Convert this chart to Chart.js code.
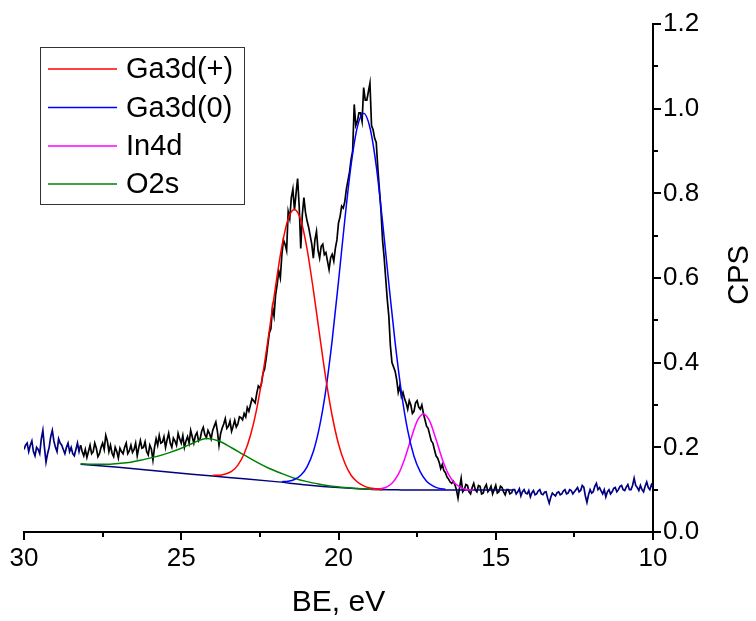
<!DOCTYPE html>
<html>
<head>
<meta charset="utf-8">
<script src="https://cdn.jsdelivr.net/npm/chart.js@4.4.0/dist/chart.umd.min.js"></script>
<style>
  html, body { margin: 0; padding: 0; background: #fff; }
  #c { display: block; }
</style>
</head>
<body>
<canvas id="c" width="756" height="621"></canvas>
<script>
// measured spectrum, 0.05 eV steps (black = fit range, navy = outside)
var spectrumStep = 0.05;
var spectrumStart = 28.2;
var spectrum = [
  0.205,0.19,0.180,0.195,0.176,0.19,0.205,0.185,0.190,0.21,
  0.198,0.178,0.185,0.2,0.210,0.195,0.228,0.215,0.190,0.205,
  0.186,0.178,0.200,0.19,0.175,0.198,0.190,0.185,0.200,0.21,
  0.185,0.192,0.205,0.188,0.195,0.21,0.180,0.2,0.216,0.198,
  0.200,0.213,0.190,0.182,0.205,0.196,0.170,0.2,0.220,0.205,
  0.228,0.21,0.212,0.225,0.200,0.218,0.233,0.21,0.200,0.222,
  0.215,0.205,0.233,0.22,0.210,0.228,0.200,0.215,0.225,0.21,
  0.240,0.225,0.210,0.228,0.235,0.215,0.220,0.238,0.247,0.23,
  0.223,0.24,0.232,0.22,0.240,0.25,0.260,0.238,0.205,0.232,
  0.245,0.255,0.268,0.245,0.250,0.262,0.238,0.25,0.264,0.248,
  0.255,0.272,0.270,0.265,0.280,0.272,0.294,0.285,0.300,0.315,
  0.310,0.305,0.327,0.345,0.340,0.35,0.375,0.385,0.410,0.44,
  0.470,0.48,0.530,0.51,0.560,0.585,0.617,0.6,0.656,0.69,
  0.680,0.665,0.757,0.74,0.790,0.81,0.760,0.80,0.835,0.77,
  0.670,0.75,0.790,0.755,0.735,0.72,0.700,0.68,0.647,0.69,
  0.710,0.665,0.647,0.675,0.680,0.655,0.660,0.64,0.620,0.648,
  0.656,0.64,0.670,0.69,0.730,0.745,0.770,0.765,0.780,0.81,
  0.830,0.85,0.880,0.9,1.010,0.96,0.970,0.99,0.990,0.97,
  1.050,1.02,1.020,1.04,1.060,0.96,0.950,0.93,0.920,0.86,
  0.810,0.76,0.690,0.65,0.600,0.55,0.510,0.44,0.400,0.39,
  0.380,0.36,0.330,0.345,0.320,0.33,0.315,0.305,0.290,0.31,
  0.300,0.28,0.285,0.305,0.310,0.295,0.290,0.3,0.280,0.265,
  0.250,0.245,0.230,0.215,0.210,0.195,0.180,0.175,0.165,0.15,
  0.160,0.145,0.140,0.13,0.125,0.118,0.115,0.12,0.112,0.1,
  0.080,0.105,0.127,0.095,0.100,0.112,0.110,0.095,0.090,0.105,
  0.115,0.1,0.095,0.11,0.108,0.09,0.092,0.105,0.112,0.095,
  0.100,0.108,0.090,0.1,0.110,0.092,0.095,0.108,0.105,0.095,
  0.088,0.1,0.100,0.09,0.092
];
var leftStart = 30.0;
var leftTail = [
  0.195,0.205,0.210,0.19,0.205,0.215,0.190,0.18,0.200,0.195,
  0.185,0.22,0.240,0.2,0.165,0.185,0.200,0.225,0.240,0.215,
  0.200,0.19,0.220,0.21,0.205,0.195,0.185,0.2,0.210,0.19,
  0.200,0.185,0.180,0.195,0.210,0.19,0.205
];
var rightStart = 14.5;
var rightTail = [
  0.092,0.1,0.100,0.09,0.095,0.102,0.085,0.095,0.100,0.092,
  0.090,0.098,0.083,0.093,0.098,0.088,0.090,0.097,0.100,0.09,
  0.088,0.094,0.095,0.08,0.068,0.082,0.092,0.088,0.085,0.093,
  0.095,0.088,0.090,0.097,0.100,0.09,0.092,0.1,0.098,0.09,
  0.095,0.1,0.105,0.095,0.098,0.11,0.106,0.085,0.070,0.088,
  0.100,0.092,0.095,0.108,0.115,0.1,0.105,0.097,0.090,0.1,
  0.083,0.095,0.100,0.09,0.095,0.103,0.105,0.095,0.100,0.108,
  0.110,0.1,0.098,0.106,0.112,0.1,0.100,0.11,0.127,0.11,
  0.105,0.098,0.110,0.1,0.095,0.108,0.118,0.105,0.100,0.112,
  0.105
];

// background
var bgBE  = [28.2, 27, 26, 25, 24, 23, 22, 21, 20, 19, 18, 17, 14.45];
var bgCPS = [0.160,0.153,0.146,0.139,0.132,0.126,0.119,0.111,0.105,0.101,0.0995,0.099,0.099];

// fitted components (peak + background)
var ga3dPlusStart = 24.0, ga3dPlusStep = 0.2;
var ga3dPlus = [0.134,0.134,0.137,0.143,0.158,0.185,0.228,0.291,0.376,0.476,0.581,0.675,0.740,0.762,
  0.737,0.669,0.572,0.465,0.361,0.274,0.208,0.163,0.134,0.118,0.109,0.104,0.102,0.100];
var ga3d0Start = 21.8, ga3d0Step = 0.2;
var ga3d0 = [0.119,0.120,0.124,0.134,0.154,0.190,0.250,0.337,0.454,0.592,0.737,0.867,0.957,0.989,
  0.955,0.865,0.733,0.587,0.448,0.330,0.240,0.179,0.142,0.120,0.109,0.103,0.101];
var in4dStart = 18.9, in4dStep = 0.2;
var in4d = [0.101,0.102,0.105,0.115,0.136,0.172,0.219,0.262,0.279,0.262,0.219,0.172,0.136,0.115,0.105,0.100,0.099];
var o2sStart = 28.2, o2sStep = 0.4;
var o2s = [0.161,0.160,0.160,0.162,0.165,0.171,0.178,0.187,0.198,0.211,0.221,0.215,0.199,0.182,
  0.165,0.150,0.138,0.127,0.119,0.113,0.108,0.105,0.103,0.101,0.100];

var xMinor = [27.5, 22.5, 17.5, 12.5];
var yMinor = [0.1, 0.3, 0.5, 0.7, 0.9, 1.1];

var FONT = '"Liberation Sans", Arial, sans-serif';

function stepped(start, step, vals) {
  return vals.map(function(v, i) { return { x: +(start - i * step).toFixed(3), y: v }; });
}
function paired(xs, ys) {
  return xs.map(function(x, i) { return { x: x, y: ys[i] }; });
}

function curve(label, color, data) {
  return { label: label, data: data, borderColor: color, borderWidth: 1.5, pointRadius: 0,
           cubicInterpolationMode: 'monotone', fill: false };
}
function trace(color, data) {
  return { label: '', data: data, borderColor: color, borderWidth: 1.7, pointRadius: 0,
           tension: 0, fill: false };
}

var extras = {
  id: 'extras',
  afterDraw: function(chart) {
    var ctx = chart.ctx, xs = chart.scales.x, ys = chart.scales.y;
    ctx.save();
    ctx.strokeStyle = '#000';
    ctx.lineWidth = 2;
    ctx.beginPath();
    xMinor.forEach(function(v) {
      var px = Math.round(xs.getPixelForValue(v));
      ctx.moveTo(px, xs.top); ctx.lineTo(px, xs.top + 5);
    });
    yMinor.forEach(function(v) {
      var py = Math.round(ys.getPixelForValue(v));
      ctx.moveTo(ys.left, py); ctx.lineTo(ys.left + 5, py);
    });
    ctx.stroke();

    // right axis title
    ctx.fillStyle = '#000';
    ctx.font = '29px ' + FONT;
    ctx.textAlign = 'center';
    ctx.textBaseline = 'middle';
    ctx.translate(740, 275);
    ctx.rotate(-Math.PI / 2);
    ctx.fillText('CPS', 0, 0);
    ctx.restore();

    // legend box
    ctx.save();
    ctx.strokeStyle = '#333';
    ctx.lineWidth = 1;
    ctx.strokeRect(40.5, 47.5, 204, 157);
    var rows = [69, 107.5, 146, 184];
    ctx.font = '29px ' + FONT;
    ctx.textAlign = 'left';
    ctx.textBaseline = 'middle';
    chart.data.datasets.slice(0, 4).forEach(function(ds, i) {
      ctx.strokeStyle = ds.borderColor;
      ctx.lineWidth = 1.5;
      ctx.beginPath();
      ctx.moveTo(48, rows[i]); ctx.lineTo(117, rows[i]);
      ctx.stroke();
      ctx.fillStyle = '#000';
      ctx.fillText(ds.label, 126, rows[i] + 1);
    });
    ctx.restore();
  }
};

new Chart(document.getElementById('c'), {
  type: 'line',
  data: {
    datasets: [
      curve('Ga3d(+)', '#ff0000', stepped(ga3dPlusStart, ga3dPlusStep, ga3dPlus)),
      curve('Ga3d(0)', '#0000ff', stepped(ga3d0Start, ga3d0Step, ga3d0)),
      curve('In4d', '#ff00ff', stepped(in4dStart, in4dStep, in4d)),
      curve('O2s', '#008000', stepped(o2sStart, o2sStep, o2s)),
      curve('', '#000080', paired(bgBE, bgCPS)),
      trace('#000000', stepped(spectrumStart, spectrumStep, spectrum)),
      trace('#000080', stepped(leftStart, spectrumStep, leftTail)),
      trace('#000080', stepped(rightStart, spectrumStep, rightTail))
    ]
  },
  options: {
    responsive: false,
    devicePixelRatio: 1,
    animation: false,
    layout: { padding: { top: 24, left: 24, right: 0, bottom: 0 } },
    plugins: { legend: { display: false }, tooltip: { enabled: false } },
    scales: {
      x: {
        type: 'linear', position: 'bottom', reverse: true, min: 10, max: 30,
        ticks: { stepSize: 5, color: '#000', font: { family: FONT, size: 26 }, padding: 3,
                 maxRotation: 0, autoSkip: false },
        grid: { drawOnChartArea: false, drawTicks: true, tickLength: 8, color: '#000', lineWidth: 2 },
        border: { display: true, color: '#000', width: 2 },
        title: { display: true, text: 'BE, eV', color: '#000', font: { family: FONT, size: 30 },
                 padding: { top: 0, bottom: 0 } },
        afterFit: function(s) { s.height = 89; }
      },
      y: {
        type: 'linear', position: 'right', min: 0, max: 1.2,
        ticks: { stepSize: 0.2, color: '#000', font: { family: FONT, size: 26 }, padding: 2,
                 autoSkip: false, callback: function(v) { return v.toFixed(1); } },
        grid: { drawOnChartArea: false, drawTicks: true, tickLength: 8, color: '#000', lineWidth: 2 },
        border: { display: true, color: '#000', width: 2 },
        title: { display: false },
        afterFit: function(s) { s.width = 103; }
      }
    }
  },
  plugins: [extras]
});
</script>
</body>
</html>
